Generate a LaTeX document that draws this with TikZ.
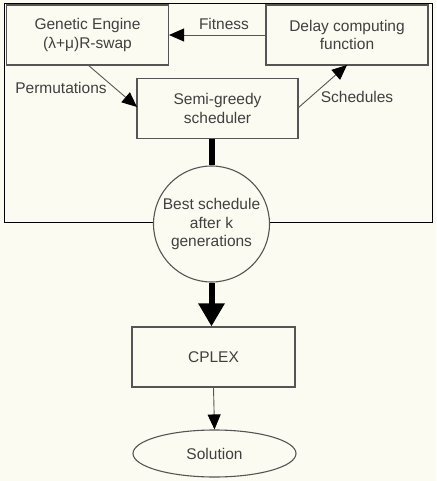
\documentclass[tikz,border=0pt]{standalone}
\usepackage{fontspec}
\setmainfont{Liberation Sans}
\usetikzlibrary{arrows.meta,shapes.geometric}
\definecolor{bg}{HTML}{FBFBF1}
\definecolor{ln}{HTML}{555555}
\definecolor{tx}{HTML}{404040}
\begin{document}
\begin{tikzpicture}[x=1pt,y=-1pt,
  every node/.style={font=\fontsize{15.5}{18.5}\selectfont, text=tx},
  box/.style={draw=ln, line width=1.1pt, fill=bg, minimum width=#1, minimum height=60pt, inner sep=0pt, align=center},
  box/.default=162pt,
  lbl/.style={inner sep=0pt},
  thin/.style={draw=ln, line width=0.9pt, -{Triangle[length=15pt,width=13pt,fill=black,color=black]}}]
\fill[bg] (0,0) rectangle (436,481);
\useasboundingbox (0,0) rectangle (436,481);
\draw[black, line width=0.9pt] (4,3) rectangle (432,222);
\node[box] (gen) at (87.5,35) {Genetic Engine\\(λ+μ)R-swap};
\node[box] (delay) at (347,35) {Delay computing\\function};
\node[box=161pt] (semi) at (217.5,108.5) {Semi-greedy\\scheduler};
\node[draw=ln, line width=1.1pt, fill=bg, circle, minimum size=116pt, inner sep=0pt, align=center] (best) at (211.5,224) {Best schedule\\after k\\generations};
\node[box=163pt] (cplex) at (213.5,357) {CPLEX};
\node[draw=ln, line width=1.1pt, fill=bg, ellipse, minimum width=163pt, minimum height=47pt, inner sep=0pt] (sol) at (214.5,453.5) {Solution};
\coordinate (gs) at (88,65);
\coordinate (sw) at (137,107);
\coordinate (se) at (298,108);
\coordinate (ds) at (347,65);
\draw[thin] (delay.west) -- (gen.east);
\draw[thin] (gs) -- (sw);
\draw[thin] (se) -- (ds);
\draw[black, line width=6pt] (best.north |- semi.south) -- (best.north);
\draw[black, line width=6pt, -{Triangle[length=23pt,width=25pt]}] (best.south) -- (best.south |- cplex.north);
\draw[thin] (cplex.south) -- (sol.north);
\node[lbl] (fit) at (224,24) {Fitness};
\node[lbl] (perm) at (61,88) {Permutations};
\node[lbl] (sch) at (357,97) {Schedules};
\end{tikzpicture}
\end{document}
